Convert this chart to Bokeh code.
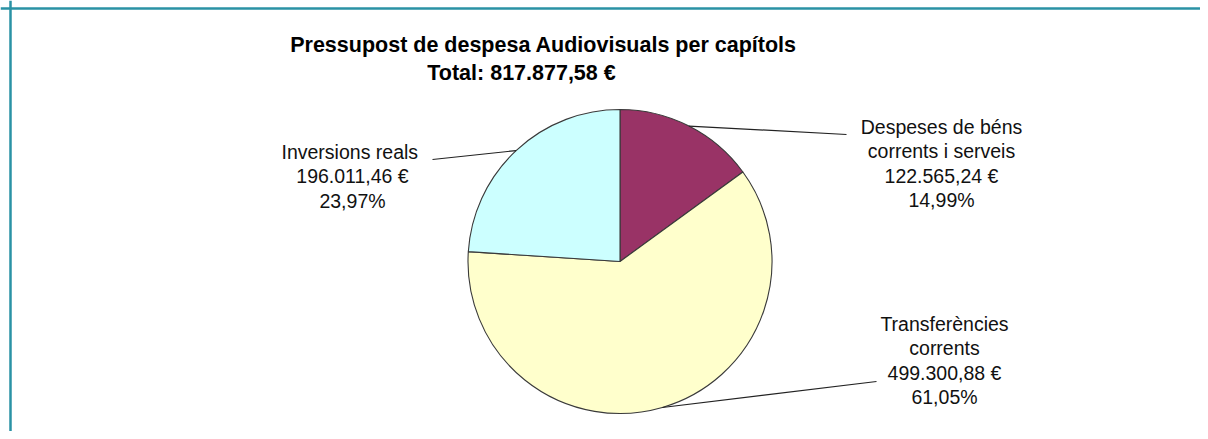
import math
from bokeh.plotting import figure
from bokeh.models import Range1d, Span
from bokeh.core.properties import value
from bokeh.embed import file_html
from bokeh.resources import INLINE

# ---------------- data ----------------
title_line1 = "Pressupost de despesa Audiovisuals per capítols"
title_prefix = "Total: "
name_lines = [
    ["Despeses de béns", "corrents i serveis"],
    ["Transferències", "corrents"],
    ["Inversions  reals"],
]
amounts = [122565.24, 499300.88, 196011.46]
colors = ["#993366", "#FFFFCC", "#CCFFFF"]

# ---------------- layout (image pixel coordinates) ----------------
W, H = 1200, 431
def X(px):
    return px
def Y(py):
    return H - py
TEXT_DROP = 8  # rendered text sits this much below its anchor

pie_cx, pie_cy, pie_r = 619.5, 261.0, 152.0
label_anchor = [(846, 134), (876, 381), (432, 159)]   # leader line ends
label_center = [941, 944, 352]
label_first_baseline = [134, 331, 159]
line_step = 24.5

def fmt_num(v):
    s = f"{v:,.2f}"
    return s.replace(",", "X").replace(".", ",").replace("X", ".")

total = sum(amounts)

p = figure(width=W, height=H, output_backend="svg", toolbar_location=None,
           x_range=Range1d(0, W), y_range=Range1d(0, H),
           min_border=0, min_border_left=0, min_border_right=0,
           min_border_top=0, min_border_bottom=0)
p.axis.visible = False
p.grid.visible = False
p.outline_line_color = None
p.background_fill_color = "white"
p.border_fill_color = "white"

# frame border (left and top visible in the reference)
p.add_layout(Span(location=10, dimension="height", line_color="#2a92a5", line_width=2.5))
p.add_layout(Span(location=H - 8, dimension="width", line_color="#2a92a5", line_width=2.5))

# pie
cum = 0.0
starts, ends, mids = [], [], []
for a in amounts:
    f0 = cum / total
    cum += a
    f1 = cum / total
    starts.append(math.pi / 2 - 2 * math.pi * f0)
    ends.append(math.pi / 2 - 2 * math.pi * f1)
    mids.append(math.pi / 2 - 2 * math.pi * (f0 + f1) / 2)

p.wedge(x=X(pie_cx), y=Y(pie_cy), radius=pie_r, start_angle=starts, end_angle=ends,
        direction="clock", fill_color=colors, line_color="#3a3a3a", line_width=1.1)

# leader lines
xs, ys = [], []
for m, (ax, ay) in zip(mids, label_anchor):
    px = X(pie_cx) + pie_r * math.cos(m)
    py = Y(pie_cy) + pie_r * math.sin(m)
    xs.append([px, X(ax)])
    ys.append([py, Y(ay)])
p.multi_line(xs=xs, ys=ys, line_color="#222222", line_width=1.2)

# labels
tx, ty, tt = [], [], []
for i, a in enumerate(amounts):
    lines = list(name_lines[i]) + [fmt_num(a) + " €", fmt_num(100 * a / total) + "%"]
    for j, t in enumerate(lines):
        tx.append(X(label_center[i]))
        ty.append(Y(label_first_baseline[i] + j * line_step - TEXT_DROP))
        tt.append(t)
p.text(x=tx, y=ty, text=tt, text_align="center", text_baseline="alphabetic",
       text_font=value("Liberation Sans"), text_font_size="19.5px", text_color="#111111")

# title
p.text(x=[X(543), X(521)], y=[Y(52 - TEXT_DROP), Y(80 - TEXT_DROP)],
       text=[title_line1, title_prefix + fmt_num(total) + " €"],
       text_align="center", text_baseline="alphabetic",
       text_font=value("Liberation Sans"), text_font_style="bold",
       text_font_size="21.5px", text_color="#000000")

open("out.html", "w").write(file_html(p, INLINE))
